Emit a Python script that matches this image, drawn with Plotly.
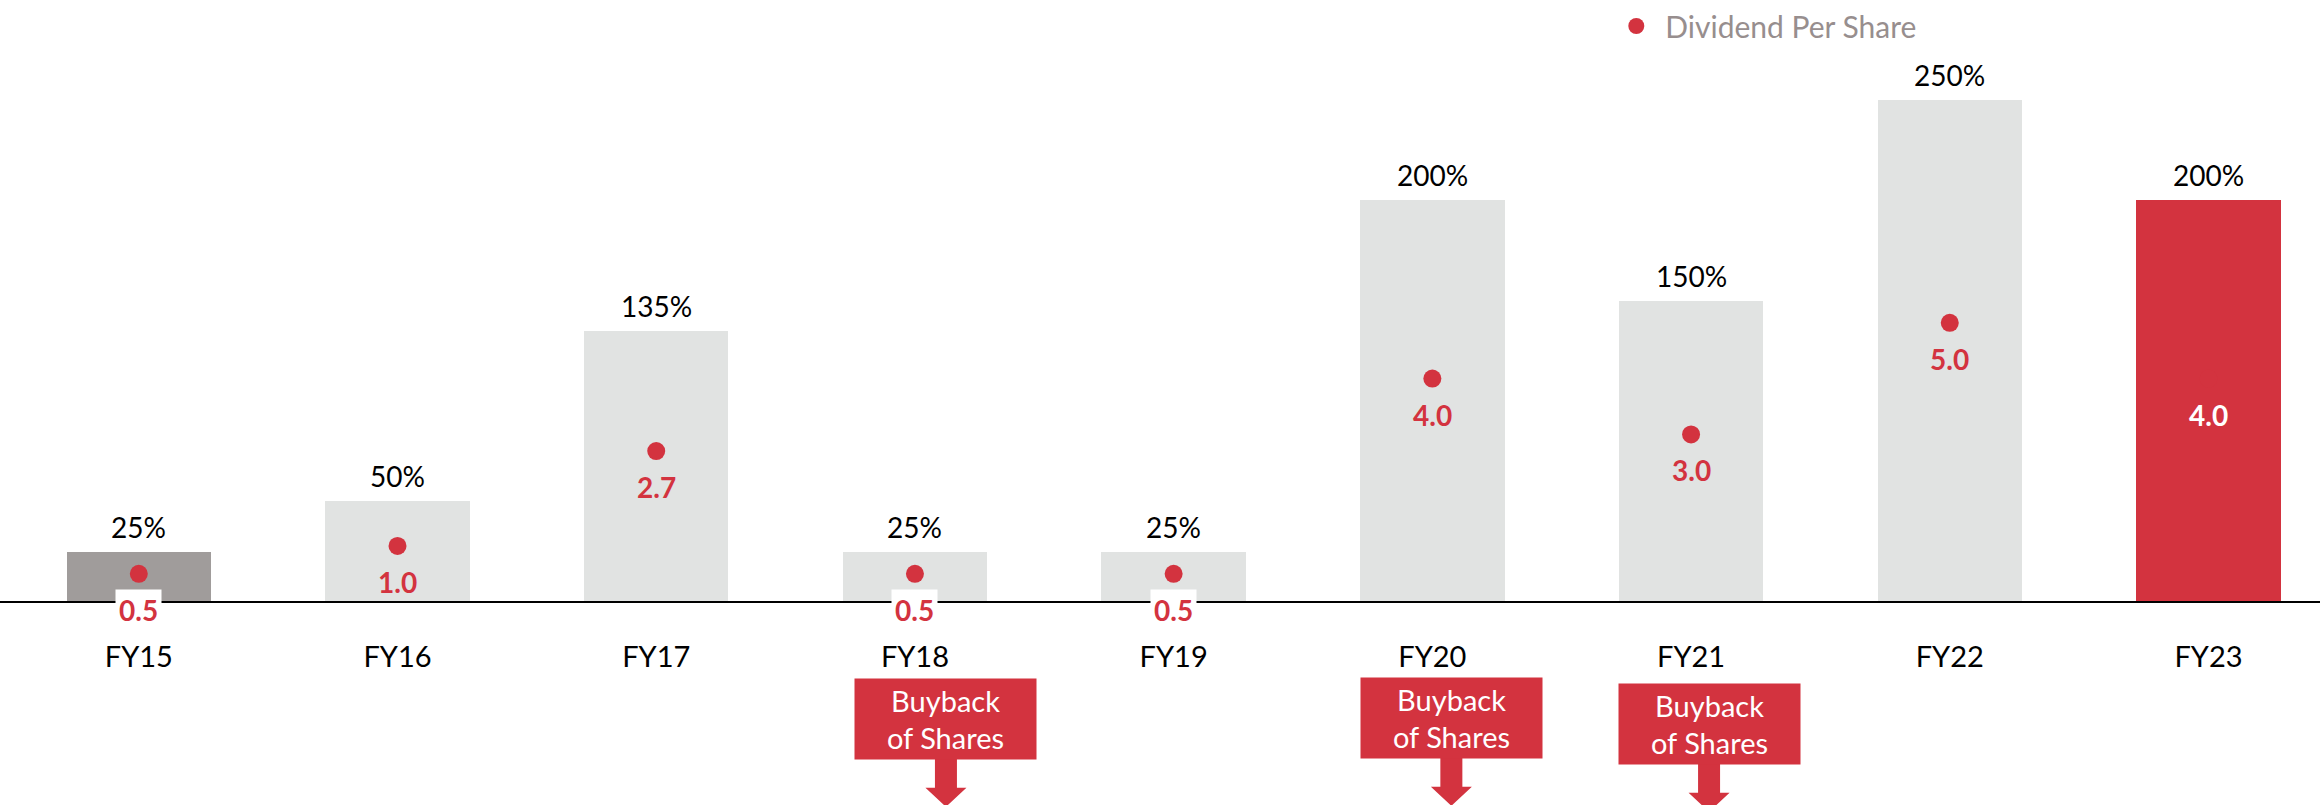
import plotly.graph_objects as go

years = ["FY15", "FY16", "FY17", "FY18", "FY19", "FY20", "FY21", "FY22", "FY23"]
dividend_pct = [25, 50, 135, 25, 25, 200, 150, 250, 200]
dps = [0.5, 1.0, 2.7, 0.5, 0.5, 4.0, 3.0, 5.0, 4.0]
buyback_years = ["FY18", "FY20", "FY21"]

RED = "#D3333F"
GREY = "#E1E3E2"
DARK_GREY = "#A09C9B"
FONT = "Lato"

bar_colors = [DARK_GREY] + [GREY] * 7 + [RED]
# pixel nudges for the buyback call-outs (x, y)
buyback_offsets = {"FY18": (31, -117), "FY20": (19, -116), "FY21": (18, -122)}

fig = go.Figure()
fig.add_trace(go.Bar(
    x=years, y=dividend_pct,
    marker=dict(color=bar_colors, line_width=0),
    width=0.558, showlegend=False, hoverinfo="skip"
))
fig.add_trace(go.Scatter(
    x=years, y=dps, yaxis="y2", mode="markers",
    marker=dict(size=18, color=RED),
    name="Dividend Per Share"
))

# percentage labels above bars
for yr, p in zip(years, dividend_pct):
    fig.add_annotation(x=yr, y=p, yref="y", text=f"{p}%", showarrow=False,
                       yshift=25, font=dict(family=FONT, size=28, color="#000000"))

# DPS value labels under the dots
for yr, d, c in zip(years, dps, bar_colors):
    fig.add_annotation(x=yr, y=d, yref="y2", text=f"<b>{d:.1f}</b>", showarrow=False,
                       yshift=-36, borderpad=3,
                       bgcolor="white" if d < 1 else "rgba(0,0,0,0)",
                       font=dict(family=FONT, size=28, color="white" if c == RED else RED))

# buyback call-outs with arrows
for yr in buyback_years:
    dx, dy = buyback_offsets[yr]
    fig.add_annotation(x=yr, y=0, yref="y", xshift=dx, yshift=dy,
                       text="Buyback<br>of Shares", showarrow=False,
                       width=181, height=80, bgcolor=RED, borderpad=0,
                       font=dict(family=FONT, size=29, color="white"))
    top = dy - 40
    path = (f"M {dx-11},{top} L {dx+11},{top} L {dx+11},{top-29} L {dx+20.5},{top-29} "
            f"L {dx},{top-48} L {dx-20.5},{top-29} L {dx-11},{top-29} Z")
    fig.add_shape(type="path", xref="x", xsizemode="pixel", xanchor=yr,
                  yref="y", ysizemode="pixel", yanchor=0,
                  path=path, fillcolor=RED, line_width=0, layer="above")

fig.update_layout(
    width=2320, height=805,
    margin=dict(l=0, r=0, t=0, b=0),
    paper_bgcolor="white", plot_bgcolor="white",
    font=dict(family=FONT),
    bargap=0,
    xaxis=dict(range=[-0.5365, 8.431], anchor="free", position=204 / 805,
               showline=True, linecolor="#000000", linewidth=2,
               ticks="", ticklabelstandoff=29, showgrid=False, zeroline=False,
               tickfont=dict(family=FONT, size=29, color="#000000")),
    yaxis=dict(range=[-101.2, 298.3], visible=False),
    yaxis2=dict(range=[-3.643, 10.732], overlaying="y", visible=False),
    legend=dict(x=0.6928, y=1.004, xanchor="left", yanchor="top",
                orientation="h", bgcolor="rgba(0,0,0,0)", itemwidth=48,
                font=dict(family=FONT, size=30, color="#978E8E")),
    showlegend=True,
)

fig.write_html("out.html", config={"displayModeBar": False},
               post_script="document.body.style.margin='0px';")
